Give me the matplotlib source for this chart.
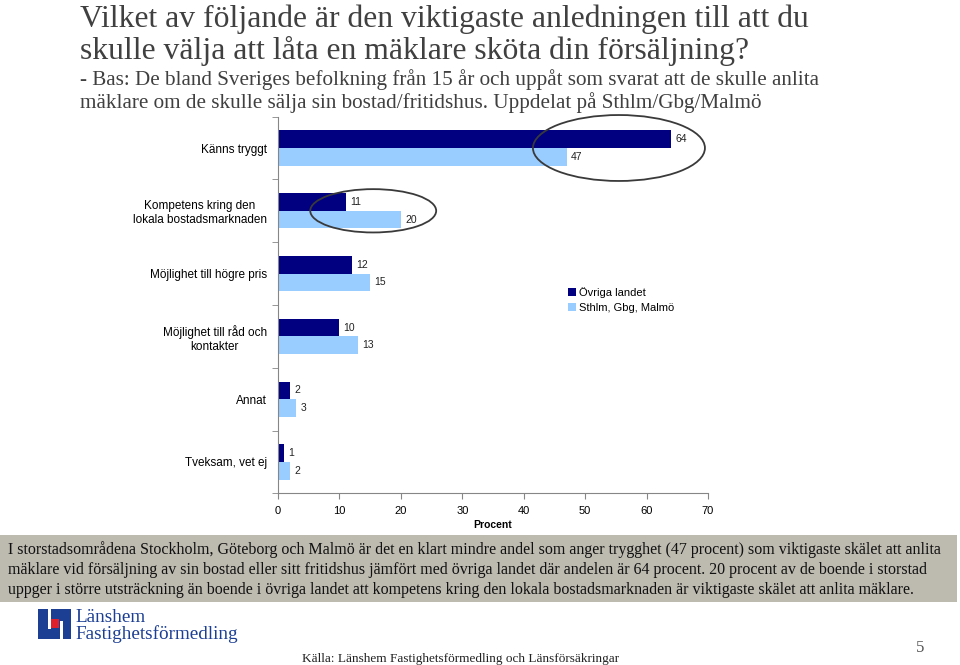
import numpy as np
import matplotlib
matplotlib.use('Agg')
import matplotlib.pyplot as plt
from matplotlib.patches import Ellipse, Rectangle

# ── data ──
categories = ['Känns tryggt',
              'Kompetens kring den\nlokala bostadsmarknaden',
              'Möjlighet till högre pris',
              'Möjlighet till råd och\nkontakter',
              'Annat',
              'Tveksam, vet ej']
ovriga = [64, 11, 12, 10, 2, 1]
storstad = [47, 20, 15, 13, 3, 2]
series_names = ['Övriga landet', 'Sthlm, Gbg, Malmö']
xticks = [0, 10, 20, 30, 40, 50, 60, 70]
highlight = [0, 1]   # ringade kategorier

title = ('Vilket av följande är den viktigaste anledningen till att du\n'
         'skulle välja att låta en mäklare sköta din försäljning?')
subtitle = ['- Bas: De bland Sveriges befolkning från 15 år och uppåt som svarat att de skulle anlita',
            'mäklare om de skulle sälja sin bostad/fritidshus. Uppdelat på Sthlm/Gbg/Malmö']
comment = ['I storstadsområdena Stockholm, Göteborg och Malmö är det en klart mindre andel som anger trygghet (47 procent) som viktigaste skälet att anlita',
           'mäklare vid försäljning av sin bostad eller sitt fritidshus jämfört med övriga landet där andelen är 64 procent. 20 procent av de boende i storstad',
           'uppger i större utsträckning än boende i övriga landet att kompetens kring den lokala bostadsmarknaden är viktigaste skälet att anlita mäklare.']
source = 'Källa: Länshem Fastighetsförmedling och Länsförsäkringar'

DARK = '#000080'
LIGHT = '#99ccff'
GRAY = '#868686'
SANS = 'Liberation Sans'
SERIF = 'Liberation Serif'

W, H = 960, 665
fig = plt.figure(figsize=(W / 100, H / 100), dpi=100)


def fx(px):
    return px / W


def fy(py):
    return 1 - py / H


# ── rubrik ──
fig.text(fx(80), fy(27), title.split('\n')[0], family=SERIF, fontsize=22.8,
         color='#404040', va='baseline')
fig.text(fx(80), fy(59), title.split('\n')[1], family=SERIF, fontsize=22.8,
         color='#404040', va='baseline')
fig.text(fx(80), fy(85), subtitle[0], family=SERIF, fontsize=15.2,
         color='#404040', va='baseline')
fig.text(fx(80), fy(108), subtitle[1], family=SERIF, fontsize=15.2,
         color='#404040', va='baseline')

# ── diagram ──
ax = fig.add_axes([fx(278), fy(493.4), fx(708) - fx(278), (493.4 - 116.6) / H])
y = np.arange(len(categories))
h = 0.28
ax.barh(y - h / 2, ovriga, height=h, color=DARK, label=series_names[0])
ax.barh(y + h / 2, storstad, height=h, color=LIGHT, label=series_names[1])

for yi, v1, v2 in zip(y, ovriga, storstad):
    ax.annotate(str(v1), (v1, yi - h / 2), xytext=(3, 0), textcoords='offset points',
                va='center', ha='left', fontsize=7.5, family=SANS, color='#222222')
    ax.annotate(str(v2), (v2, yi + h / 2), xytext=(3, 0), textcoords='offset points',
                va='center', ha='left', fontsize=7.5, family=SANS, color='#222222')

# ringar runt de viktigaste skillnaderna
ring_w = [28, 20.5]
ring_h = [1.05, 0.69]
for k, i in enumerate(highlight):
    cx = (ovriga[i] + storstad[i]) / 2
    ax.add_patch(Ellipse((cx, i), ring_w[k], ring_h[k], fill=False,
                         edgecolor='#3a3a3a', lw=1.3, clip_on=False, zorder=5))

ax.set_xlim(0, 70)
ax.set_ylim(len(categories) - 0.5, -0.5)
ax.set_xticks(xticks)
ax.set_xticklabels([str(t) for t in xticks], family=SANS, fontsize=8)
ax.set_yticks(y)
ax.set_yticklabels(categories, family=SANS, fontsize=8.5)
ax.set_yticks(np.arange(len(categories) + 1) - 0.5, minor=True)
ax.tick_params(axis='y', which='major', length=0, pad=8)
ax.tick_params(axis='y', which='minor', length=4, color=GRAY, direction='out')
ax.tick_params(axis='x', length=4, color=GRAY, direction='out', pad=5)
for lab in ax.get_yticklabels():
    lab.set_multialignment('center')
for s in ['top', 'right']:
    ax.spines[s].set_visible(False)
for s in ['left', 'bottom']:
    ax.spines[s].set_color(GRAY)
    ax.spines[s].set_linewidth(0.8)
ax.set_xlabel('Procent', family=SANS, fontsize=7.5, fontweight='bold', labelpad=3)

ax.legend(loc='upper left', bbox_to_anchor=(0.652, 0.575), frameon=False,
          prop={'family': SANS, 'size': 8}, handlelength=0.7, handleheight=0.7,
          handletextpad=0.3, labelspacing=0.45)

# ── kommentarsruta ──
fig.add_artist(Rectangle((0, fy(602)), fx(957), (602 - 535) / H,
                         transform=fig.transFigure, facecolor='#bdbab0',
                         edgecolor='none', zorder=0))
for k, line in enumerate(comment):
    fig.text(fx(8), fy(554 + k * 20), line, family=SERIF, fontsize=11.5,
             color='#111111', va='baseline')

# ── logga ──
def frect(x0, y0, x1, y1, c):
    fig.add_artist(Rectangle((fx(x0), fy(y1)), fx(x1 - x0), (y1 - y0) / H,
                             transform=fig.transFigure, facecolor=c,
                             edgecolor='none'))


LOGO = '#1c3f94'
frect(38, 609, 71, 639, LOGO)
frect(48, 609, 51, 629, 'white')
frect(60, 621, 63, 639, 'white')
frect(51, 619, 59, 628, '#e0202a')
fig.text(fx(75), fy(622), 'Länshem', family=SERIF, fontsize=13.8,
         color=LOGO, va='baseline')
fig.text(fx(75), fy(639), 'Fastighetsförmedling', family=SERIF, fontsize=13.8,
         color=LOGO, va='baseline')

fig.text(fx(302), fy(662), source, family=SERIF, fontsize=9.5,
         color='#222222', va='baseline')
fig.text(fx(916), fy(652), '5', family=SERIF, fontsize=12,
         color='#555555', va='baseline')

plt.savefig('out.png', dpi=100)
plt.close()
